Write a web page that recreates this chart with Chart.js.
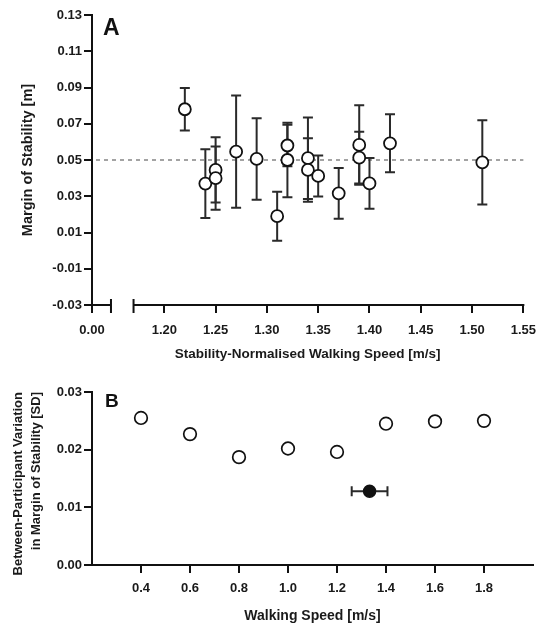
<!DOCTYPE html>
<html>
<head>
<meta charset="utf-8">
<script src="https://cdn.jsdelivr.net/npm/chart.js@4.4.0/dist/chart.umd.min.js"></script>
<style>
    body { margin: 0; background: #fff; }
    #painel { position: relative; width: 546px; height: 626px; }
    #graficoA { position: absolute; left: 0; top: 0; }
    #graficoB { position: absolute; left: 0; top: 368px; }
</style>
</head>
<body>
<div id="painel">
    <canvas id="graficoA" width="546" height="368"></canvas>
    <canvas id="graficoB" width="546" height="258"></canvas>
</div>
<script>
    // ---------- Painel A: margem de estabilidade x velocidade normalizada ----------
    const velNormalizada = [1.22, 1.24, 1.25, 1.25, 1.27, 1.29, 1.31, 1.32, 1.32, 1.34, 1.34, 1.35, 1.37, 1.39, 1.39, 1.40, 1.42, 1.51];
    const margemMedia = [0.078, 0.037, 0.0445, 0.040, 0.0546, 0.0506, 0.019, 0.058, 0.050, 0.051, 0.0445, 0.0412, 0.0316, 0.0583, 0.0513, 0.0371, 0.0592, 0.0487];
    const margemDP = [0.0117, 0.019, 0.018, 0.0175, 0.031, 0.0225, 0.0135, 0.0115, 0.0205, 0.0225, 0.0175, 0.0113, 0.014, 0.0219, 0.0143, 0.014, 0.016, 0.0232];
    const ticksYA = [-0.03, -0.01, 0.01, 0.03, 0.05, 0.07, 0.09, 0.11, 0.13];
    const ticksXA = [1.20, 1.25, 1.30, 1.35, 1.40, 1.45, 1.50, 1.55];
    const rotuloQuebra = '0.00';     // rotulo do trecho antes da quebra do eixo
    const minimoEixoXA = 1.1295;     // inicio do eixo (corresponde ao 0.00)
    const fimTrechoQuebra = 1.148;   // fim do pequeno trecho inicial
    const inicioTrechoPrincipal = 1.17;
    const linhaReferencia = 0.05;

    // ---------- Painel B: variacao entre participantes x velocidade ----------
    const velocidades = [0.4, 0.6, 0.8, 1.0, 1.2, 1.4, 1.6, 1.8];
    const variacaoDP = [0.0255, 0.0227, 0.0187, 0.0202, 0.0196, 0.0245, 0.0249, 0.0250];
    const velPreferida = [1.333];
    const velPreferidaDP = [0.073];
    const variacaoPreferida = [0.0128];
    const ticksYB = [0.00, 0.01, 0.02, 0.03];
    const ticksXB = [0.4, 0.6, 0.8, 1.0, 1.2, 1.4, 1.6, 1.8];

    const corTexto = '#1a1a1a';
    const corEixo = '#111';
    const familia = '"Liberation Sans", Arial, sans-serif';
    const fonteTick = { family: familia, size: 13, weight: 'bold' };

    Chart.defaults.font.family = familia;

    function fonteTitulo(tamanho, altura) {
        return { family: familia, size: tamanho, weight: 'bold', lineHeight: altura || 1.2 };
    }

    function montarPontos(xs, ys) {
        let pontos = [];
        for (let i = 0; i < xs.length; i++) {
            pontos.push({ x: xs[i], y: ys[i] });
        }
        return pontos;
    }

    function gradeEixo() {
        return { drawOnChartArea: false, drawTicks: true, tickLength: 8, color: corEixo, lineWidth: 2 };
    }

    // linha tracejada, barras de erro, eixo x quebrado e letra do painel
    const extrasA = {
        id: 'extrasA',
        beforeDatasetsDraw(chart) {
            const ctx = chart.ctx;
            const area = chart.chartArea;
            const x = chart.scales.x;
            const y = chart.scales.y;
            ctx.save();

            // linha de referencia em 0.05
            const yRef = y.getPixelForValue(linhaReferencia);
            ctx.setLineDash([4, 4]);
            ctx.strokeStyle = '#9a9a9a';
            ctx.lineWidth = 1.8;
            ctx.beginPath();
            ctx.moveTo(area.left + 4, yRef);
            ctx.lineTo(area.right, yRef);
            ctx.stroke();
            ctx.setLineDash([]);

            // barras de erro (media +- DP)
            ctx.strokeStyle = '#2a2a2a';
            ctx.lineWidth = 2;
            for (let i = 0; i < velNormalizada.length; i++) {
                const px = x.getPixelForValue(velNormalizada[i]);
                const topo = y.getPixelForValue(margemMedia[i] + margemDP[i]);
                const base = y.getPixelForValue(margemMedia[i] - margemDP[i]);
                ctx.beginPath();
                ctx.moveTo(px, topo);
                ctx.lineTo(px, base);
                ctx.moveTo(px - 5, topo);
                ctx.lineTo(px + 5, topo);
                ctx.moveTo(px - 5, base);
                ctx.lineTo(px + 5, base);
                ctx.stroke();
            }
            ctx.restore();
        },
        afterDraw(chart) {
            const ctx = chart.ctx;
            const area = chart.chartArea;
            const x = chart.scales.x;
            const yEixo = area.bottom;
            ctx.save();
            // eixo x em dois trechos
            ctx.strokeStyle = corEixo;
            ctx.lineWidth = 2;
            const fim1 = x.getPixelForValue(fimTrechoQuebra);
            const ini2 = x.getPixelForValue(inicioTrechoPrincipal);
            ctx.beginPath();
            ctx.moveTo(area.left, yEixo);
            ctx.lineTo(fim1, yEixo);
            ctx.moveTo(ini2, yEixo);
            ctx.lineTo(area.right + 1, yEixo);
            [fim1, ini2].forEach(function (px) {
                ctx.moveTo(px, yEixo - 6);
                ctx.lineTo(px, yEixo + 8);
            });
            ctx.stroke();
            // letra do painel
            ctx.fillStyle = corEixo;
            ctx.font = 'bold 23px ' + familia;
            ctx.fillText('A', area.left + 11, 35);
            ctx.restore();
        }
    };

    const extrasB = {
        id: 'extrasB',
        beforeDatasetsDraw(chart) {
            const ctx = chart.ctx;
            const x = chart.scales.x;
            const y = chart.scales.y;
            ctx.save();
            ctx.strokeStyle = '#2a2a2a';
            ctx.lineWidth = 2;
            // barra de erro horizontal da velocidade preferida
            for (let i = 0; i < velPreferida.length; i++) {
                const py = y.getPixelForValue(variacaoPreferida[i]);
                const esq = x.getPixelForValue(velPreferida[i] - velPreferidaDP[i]);
                const dir = x.getPixelForValue(velPreferida[i] + velPreferidaDP[i]);
                ctx.beginPath();
                ctx.moveTo(esq, py);
                ctx.lineTo(dir, py);
                ctx.moveTo(esq, py - 5);
                ctx.lineTo(esq, py + 5);
                ctx.moveTo(dir, py - 5);
                ctx.lineTo(dir, py + 5);
                ctx.stroke();
            }
            ctx.restore();
        },
        afterDraw(chart) {
            const ctx = chart.ctx;
            const area = chart.chartArea;
            ctx.save();
            ctx.fillStyle = corEixo;
            ctx.font = 'bold 19px ' + familia;
            ctx.fillText('B', area.left + 13, 39);
            ctx.restore();
        }
    };

    function plotarGraficoA() {
        const config = {
            type: 'scatter',
            data: {
                datasets: [{
                    label: 'Margin of Stability',
                    data: montarPontos(velNormalizada, margemMedia),
                    pointRadius: 6,
                    pointBorderWidth: 1.8,
                    borderColor: '#111',
                    backgroundColor: '#fff'
                }]
            },
            options: {
                responsive: false,
                animation: false,
                events: [],
                layout: { padding: { left: 0, right: 15, top: 15, bottom: 5 } },
                plugins: { legend: { display: false }, tooltip: { enabled: false } },
                scales: {
                    y: {
                        min: -0.03,
                        max: 0.13,
                        afterBuildTicks: function (s) { s.ticks = ticksYA.map(v => ({ value: v })); },
                        afterFit: function (s) { s.width = 92; },
                        border: { color: corEixo, width: 2 },
                        grid: gradeEixo(),
                        ticks: { padding: 2, color: corTexto, font: fonteTick, callback: v => v.toFixed(2) },
                        title: { display: true, text: 'Margin of Stability [m]', color: corTexto, font: fonteTitulo(14.5), padding: { top: 19, bottom: 0 } }
                    },
                    x: {
                        type: 'linear',
                        min: minimoEixoXA,
                        max: 1.55,
                        afterBuildTicks: function (s) {
                            s.ticks = [{ value: minimoEixoXA }].concat(ticksXA.map(v => ({ value: v })));
                        },
                        afterFit: function (s) { s.height = 58; },
                        border: { display: false },
                        grid: gradeEixo(),
                        ticks: {
                            padding: 10, color: corTexto, font: fonteTick, maxRotation: 0,
                            callback: (v, i) => i === 0 ? rotuloQuebra : v.toFixed(2)
                        },
                        title: { display: true, text: 'Stability-Normalised Walking Speed [m/s]', color: corTexto, font: fonteTitulo(13.5), padding: { top: 0, bottom: 1 } }
                    }
                }
            },
            plugins: [extrasA]
        };

        new Chart(document.getElementById('graficoA'), config);
    }

    function plotarGraficoB() {
        const config = {
            type: 'scatter',
            data: {
                datasets: [{
                    label: 'Fixed speeds',
                    data: montarPontos(velocidades, variacaoDP),
                    pointRadius: 6.3,
                    pointBorderWidth: 1.7,
                    borderColor: '#111',
                    backgroundColor: '#fff'
                }, {
                    label: 'Preferred speed',
                    data: montarPontos(velPreferida, variacaoPreferida),
                    pointRadius: 6,
                    pointBorderWidth: 1.5,
                    borderColor: '#111',
                    backgroundColor: '#111'
                }]
            },
            options: {
                responsive: false,
                animation: false,
                events: [],
                layout: { padding: { left: 0, right: 13, top: 24, bottom: 1 } },
                plugins: { legend: { display: false }, tooltip: { enabled: false } },
                scales: {
                    y: {
                        min: 0,
                        max: 0.03,
                        afterBuildTicks: function (s) { s.ticks = ticksYB.map(v => ({ value: v })); },
                        afterFit: function (s) { s.width = 92; },
                        border: { color: corEixo, width: 2 },
                        grid: gradeEixo(),
                        ticks: { padding: 2, color: corTexto, font: fonteTick, callback: v => v.toFixed(2) },
                        title: {
                            display: true,
                            text: ['Between-Participant Variation', 'in Margin of Stability [SD]'],
                            align: 'end',
                            color: corTexto,
                            font: fonteTitulo(13, 1.35),
                            padding: { top: 10, bottom: 0 }
                        }
                    },
                    x: {
                        type: 'linear',
                        min: 0.2,
                        max: 2.0,
                        afterBuildTicks: function (s) { s.ticks = ticksXB.map(v => ({ value: v })); },
                        afterFit: function (s) { s.height = 60; },
                        border: { color: corEixo, width: 2 },
                        grid: gradeEixo(),
                        ticks: { padding: 8, color: corTexto, font: fonteTick, maxRotation: 0, callback: v => v.toFixed(1) },
                        title: { display: true, text: 'Walking Speed [m/s]', color: corTexto, font: fonteTitulo(14), padding: { top: 0, bottom: 0 } }
                    }
                }
            },
            plugins: [extrasB]
        };

        new Chart(document.getElementById('graficoB'), config);
    }

    plotarGraficoA();
    plotarGraficoB();
</script>
</body>
</html>
